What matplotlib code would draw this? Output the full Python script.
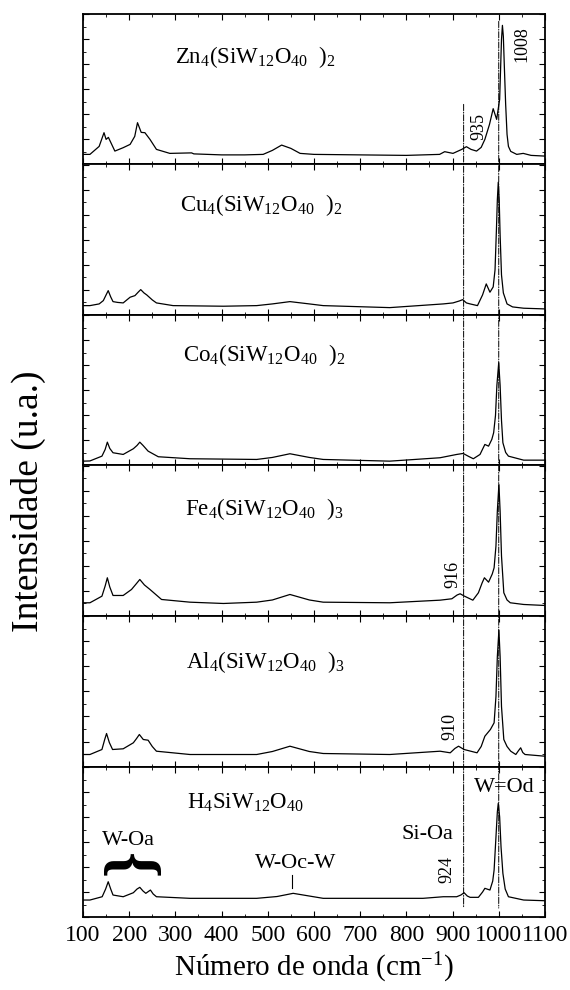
import matplotlib
matplotlib.use('Agg')
import matplotlib.pyplot as plt
from matplotlib.patches import ConnectionPatch
from matplotlib.ticker import MultipleLocator

plt.rcParams['font.family'] = ['Liberation Serif', 'DejaVu Serif']
plt.rcParams['mathtext.fontset'] = 'custom'
plt.rcParams['mathtext.rm'] = 'Liberation Serif'
plt.rcParams['mathtext.it'] = 'Liberation Serif:italic'
plt.rcParams['mathtext.bf'] = 'Liberation Serif:bold'

# Raman spectra (wavenumber, intensity in arbitrary units)
wn_zn = [100, 115, 135, 145.5, 150, 155, 169, 187, 202, 212, 218, 226, 234, 245, 259, 288, 335, 340,
         400, 450, 490, 510, 530, 550, 570, 600, 700, 800, 872, 883, 901, 920, 930, 940, 952, 962, 970,
         980, 988, 995.5, 1002, 1004, 1006, 1008, 1010, 1012, 1015, 1018, 1021, 1026, 1039, 1053, 1070, 1100]
int_zn = [10, 10, 18, 31.7, 25, 27, 13.3, 16.7, 20, 28, 41.7, 32, 31.7, 25, 15, 11, 11.5, 10.5,
          9.5, 9.5, 10, 14, 19.3, 16, 11, 10, 9.5, 9, 10, 12.7, 11, 15, 17.7, 15, 13.3, 17, 25,
          40, 55.7, 45, 65, 95, 125, 139, 128, 100, 60, 30, 18, 13, 10, 11, 9, 8.3]

wn_cu = [100, 115, 135, 144, 150, 154.6, 160, 165, 175, 187, 202, 212.5, 220, 225, 232, 238, 250, 259,
         295, 404, 476, 510, 548, 590, 620, 764, 880, 901, 915, 922, 930, 938, 954, 965, 973, 981, 988,
         992, 995, 997, 999, 1001, 1003, 1006, 1010, 1018, 1030, 1054, 1100]
int_cu = [9.3, 9.3, 11, 14.3, 20, 24.3, 18, 13.3, 12.5, 12, 17.7, 19.3, 23, 25.3, 22, 20, 15, 12,
          9.3, 8.7, 9.3, 11, 13.3, 11, 9.3, 7.3, 11, 12, 14, 15.3, 12, 11, 9.3, 20, 31, 22.7, 28,
          45, 85, 115, 132.7, 115, 80, 40, 22, 11, 8, 6.7, 6]

wn_co = [100, 115, 141, 148, 152.7, 158, 165, 187, 209, 217, 223, 230, 241, 263, 331.6, 476, 510, 548,
         590, 620, 764, 873, 909, 923, 935, 945, 959.5, 970, 978, 985, 989, 993, 996, 1000, 1003, 1006,
         1009, 1015, 1021, 1054, 1100]
int_co = [4.3, 4.5, 9.3, 16, 23.3, 17, 12.7, 11, 16.7, 20, 23.3, 20, 14.3, 8.7, 6.7, 6, 8, 11.7,
          8, 6, 4.3, 7.7, 11, 12, 9, 6.7, 11, 21, 19.3, 26, 32.7, 50, 80, 102.7, 80, 45,
          22.7, 13, 9.3, 5.3, 5.3]

wn_fe = [100, 115, 141, 148, 152.7, 158, 165, 187, 205, 215, 223, 233, 245, 270, 331.6, 404, 476, 510,
         548, 590, 620, 764, 873, 898.5, 910, 916.5, 925, 944, 956, 964, 969, 978, 986, 990, 994, 997,
         1000.4, 1003, 1006, 1011, 1018, 1025, 1054, 1100]
int_fe = [13.2, 13.2, 19.8, 30, 38.2, 29, 20.5, 20.5, 26.5, 32, 36.5, 31, 26.5, 16.5, 13.8, 12.5, 13.8, 16,
          21.5, 16, 13.8, 13.2, 15.8, 17.2, 21, 22.2, 20, 15.8, 23.2, 33, 38.2, 33.8, 42, 48.2, 70, 105,
          131.5, 105, 60, 23.2, 16, 13.2, 11.5, 10.5]

wn_al = [100, 115, 141, 147, 151, 157, 164, 187, 209, 216, 222, 230.5, 241, 250, 259, 331.6, 476, 510,
         548, 590, 620, 764, 873, 895, 905, 913, 925, 953, 962, 970, 982, 990, 994, 997, 1000.4, 1003,
         1006, 1011, 1018, 1026, 1037, 1043, 1047.5, 1052, 1057, 1100]
int_al = [12, 12, 17, 27, 33, 24, 17, 17.7, 23.7, 28, 32, 27, 26.3, 20, 15.3, 12, 12, 15,
          20.3, 15, 13, 12, 15.3, 13.7, 18, 20.3, 17, 13.7, 20, 30.3, 37, 43.7, 70, 110, 136.3, 110,
          60, 27, 20, 15.3, 12, 16, 18.7, 14, 12, 10.3]

wn_h4 = [100, 115, 141.5, 149, 154.6, 160, 165, 187, 209, 217, 223, 230, 236, 246, 252, 259, 331.6, 476,
         520, 555, 590, 620, 836, 880, 909, 918, 925, 932, 938, 956, 965, 970, 981, 987, 990, 994, 997,
         999, 1002, 1005, 1009, 1014, 1021, 1054, 1100]
int_h4 = [17, 17, 20.3, 28, 35.3, 28, 22, 20.3, 24.3, 28, 29.7, 26, 23.7, 27, 23, 20.3, 18.7, 18.7,
          20.5, 23.7, 21, 18.7, 18.7, 20.3, 20.3, 22, 24.3, 21, 19.7, 19.7, 25, 28.7, 27, 36, 47, 80, 105,
          113.7, 100, 70, 43.7, 28, 20.3, 17, 16.3]

spectra = [(wn_zn, int_zn), (wn_cu, int_cu), (wn_co, int_co),
           (wn_fe, int_fe), (wn_al, int_al), (wn_h4, int_h4)]
names = ['Zn$_4$(SiW$_{12}$O$_{40}$  )$_2$', 'Cu$_4$(SiW$_{12}$O$_{40}$  )$_2$',
         'Co$_4$(SiW$_{12}$O$_{40}$  )$_2$', 'Fe$_4$(SiW$_{12}$O$_{40}$  )$_3$',
         'Al$_4$(SiW$_{12}$O$_{40}$  )$_3$', 'H$_4$SiW$_{12}$O$_{40}$']
name_x = [299, 310, 317, 320, 323, 325]
name_y = [107, 110, 110, 107, 104, 114]

# rotated peak labels: (panel, text, x, y)
peak_labels = [(0, '1008', 1050, 120), (0, '935', 956, 38), (3, '916', 901, 42),
               (4, '910', 894, 40), (5, '924', 887, 48)]
band_labels = [('W=Od', 1011, 130), ('Si-Oa', 846, 83), ('W-Oc-W', 560, 54), ('W-Oa', 198, 77)]

fig, axes = plt.subplots(6, 1, sharex=True, figsize=(5.7, 9.9), dpi=100)
fig.subplots_adjust(left=0.1456, right=0.956, top=0.986, bottom=0.0737, hspace=0)

for i, ax in enumerate(axes):
    x, y = spectra[i]
    ax.plot(x, y, color='black', lw=0.9)
    ax.set_xlim(100, 1100)
    ax.set_ylim(0, 150.5)
    ax.text(name_x[i], name_y[i], names[i], fontsize=16.5, ha='left', va='center')
    ax.xaxis.set_major_locator(MultipleLocator(100))
    ax.xaxis.set_minor_locator(MultipleLocator(50))
    ax.yaxis.set_major_locator(MultipleLocator(25))
    ax.yaxis.set_minor_locator(MultipleLocator(12.5))
    ax.tick_params(which='both', direction='in', top=True, right=True, labelleft=False)
    ax.tick_params(which='major', length=4, width=0.8)
    ax.tick_params(which='minor', length=2.5, width=0.6)
    for s in ax.spines.values():
        s.set_linewidth(1.3)
    if i < 5:
        ax.tick_params(labelbottom=False)

for p, t, x, y in peak_labels:
    axes[p].text(x, y, t, rotation=90, fontsize=13, ha='center', va='center')

bot = axes[5]
for t, x, y in band_labels:
    bot.text(x, y, t, fontsize=16, ha='center', va='center')
bot.plot([553, 553], [29, 42], color='black', lw=0.8)
bot.text(197, 51, '{', rotation=-90, fontsize=48, fontweight='bold', ha='center', va='center')

bot.tick_params(axis='x', labelsize=17, pad=6)
bot.set_xlabel('Número de onda (cm$^{-1}$)', fontsize=21, labelpad=3)
fig.text(0.05, 0.494, 'Intensidade (u.a.)', rotation=90, fontsize=27, ha='center', va='center')

# dash-dot guide lines through all panels
for xv, ytop in [(924, 60), (1000, 143)]:
    con = ConnectionPatch((xv, ytop), (xv, 9), coordsA=axes[0].transData, coordsB=bot.transData,
                          color='black', lw=0.7, linestyle='dashdot')
    fig.add_artist(con)

fig.savefig('out.png', dpi=100)
